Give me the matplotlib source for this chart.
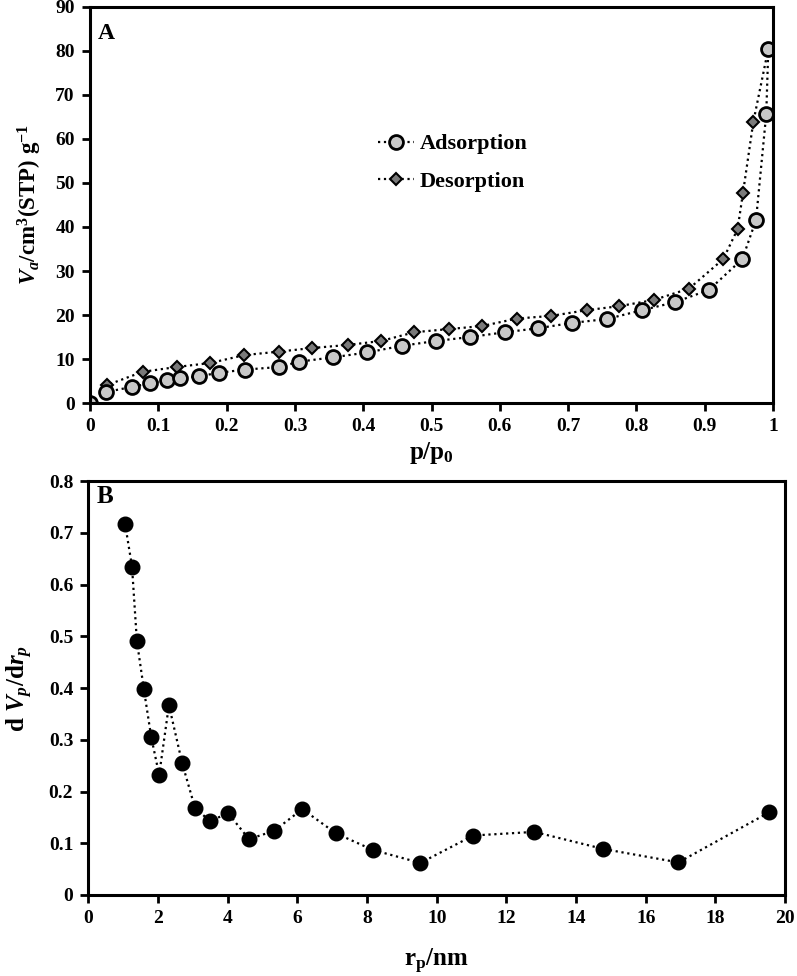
import matplotlib
matplotlib.use("Agg")
import matplotlib.pyplot as plt

plt.rcParams['font.family'] = 'Liberation Serif'
plt.rcParams['font.weight'] = 'bold'
plt.rcParams['mathtext.fontset'] = 'custom'
plt.rcParams['mathtext.rm'] = 'Liberation Serif:bold'
plt.rcParams['mathtext.it'] = 'Liberation Serif:italic:bold'
plt.rcParams['mathtext.bf'] = 'Liberation Serif:bold'

# panel A: isotherm
ads_p = [0, 0.023, 0.062, 0.088, 0.112, 0.132, 0.160, 0.189, 0.227, 0.277, 0.306,
         0.356, 0.406, 0.456, 0.506, 0.556, 0.608, 0.656, 0.705, 0.757, 0.808,
         0.856, 0.906, 0.955, 0.975, 0.990, 0.993]
ads_v = [0, 2.5, 3.7, 4.5, 5.2, 5.7, 6.1, 6.9, 7.6, 8.2, 9.4,
         10.4, 11.5, 13.0, 14.1, 15.0, 16.1, 17.0, 18.2, 19.1, 21.1,
         22.9, 25.7, 32.7, 41.6, 65.7, 80.5]
des_p = [0.993, 0.971, 0.956, 0.948, 0.927, 0.877, 0.825, 0.774, 0.727, 0.675, 0.625,
         0.574, 0.525, 0.475, 0.426, 0.377, 0.325, 0.277, 0.226, 0.176, 0.127,
         0.077, 0.025]
des_v = [80.5, 63.8, 47.8, 39.5, 32.7, 26.0, 23.4, 22.0, 21.1, 19.8, 19.2,
         17.5, 16.8, 16.1, 14.1, 13.2, 12.5, 11.7, 10.9, 9.1, 8.2,
         7.1, 4.1]

# panel B: pore size distribution
rp = [1.05, 1.25, 1.39, 1.59, 1.80, 2.03, 2.31, 2.69, 3.06, 3.49, 4.01,
      4.61, 5.33, 6.14, 7.11, 8.17, 9.53, 11.05, 12.80, 14.78, 16.94, 19.55]
dvdr = [0.718, 0.635, 0.491, 0.398, 0.306, 0.232, 0.367, 0.255, 0.168, 0.143, 0.158,
        0.108, 0.124, 0.166, 0.119, 0.087, 0.062, 0.115, 0.122, 0.089, 0.063, 0.160]

fig = plt.figure(figsize=(7.97, 9.76), dpi=100)
axA = fig.add_axes([0.113, 0.587, 0.857, 0.406])
axB = fig.add_axes([0.111, 0.083, 0.874, 0.424])


def style(ax):
    for s in ax.spines.values():
        s.set_linewidth(2.2)
    ax.tick_params(direction='out', length=6, width=2, labelsize=14, pad=5)
    for lab in ax.get_xticklabels() + ax.get_yticklabels():
        lab.set_fontweight('bold')


axA.plot(des_p, des_v, ls=':', color='black', lw=1.6, marker='D', ms=6.5,
         mfc='#7a7a7a', mec='black', mew=1.5, label='Desorption')
axA.plot(ads_p, ads_v, ls=':', color='black', lw=1.6, marker='o', ms=10,
         mfc='#c8c8c8', mec='black', mew=2, label='Adsorption')
axA.set_xlim(0, 1)
axA.set_ylim(0, 90)
axA.set_xticks([i / 10 for i in range(11)])
axA.set_xticklabels(['0', '0.1', '0.2', '0.3', '0.4', '0.5', '0.6', '0.7', '0.8', '0.9', '1'])
axA.set_yticks(range(0, 91, 10))
axA.set_xlabel(r'p/p$_{0}$', fontsize=18, fontweight='bold', labelpad=3)
axA.set_ylabel(r'$\mathit{V}_{\mathit{a}}$/cm$^{3}$(STP) g$^{-1}$', fontsize=16.5,
               fontweight='bold', labelpad=8)
h, l = axA.get_legend_handles_labels()
axA.legend(h[::-1], l[::-1], loc='upper left', bbox_to_anchor=(0.393, 0.73), frameon=False,
           prop={'family': 'Liberation Serif', 'weight': 'bold', 'size': 16},
           handlelength=1.6, handletextpad=0.25, labelspacing=0.75)
axA.text(0.012, 0.96, 'A', transform=axA.transAxes, fontsize=17, fontweight='bold',
         va='top', ha='left')
style(axA)

axB.plot(rp, dvdr, ls=':', color='black', lw=1.6, marker='o', ms=10.5,
         mfc='black', mec='black')
axB.set_xlim(0, 20)
axB.set_ylim(0, 0.8)
axB.set_xticks(range(0, 21, 2))
axB.set_yticks([i / 10 for i in range(9)])
axB.set_yticklabels(['0', '0.1', '0.2', '0.3', '0.4', '0.5', '0.6', '0.7', '0.8'])
axB.set_xlabel(r'r$_{\mathrm{p}}$/nm', fontsize=18, fontweight='bold', labelpad=14)
axB.set_ylabel(r'd $\mathit{V}_{\mathit{p}}$/d$\mathit{r}_{\mathit{p}}$', fontsize=18,
               fontweight='bold', labelpad=10)
axB.text(0.012, 0.99, 'B', transform=axB.transAxes, fontsize=18, fontweight='bold',
         va='top', ha='left')
style(axB)

fig.savefig('out.png', dpi=100)
